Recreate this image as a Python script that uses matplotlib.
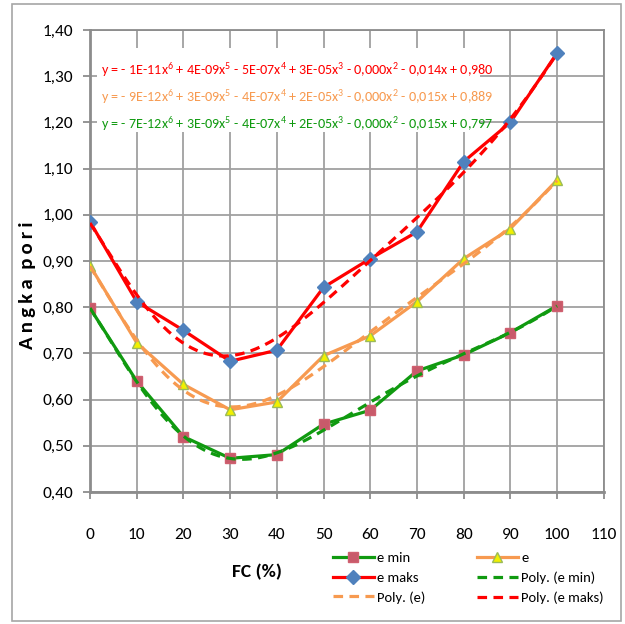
import numpy as np
import matplotlib
matplotlib.use("Agg")
import matplotlib.pyplot as plt
from matplotlib.patches import Rectangle
from matplotlib.ticker import FuncFormatter, MultipleLocator

plt.rcParams["font.family"] = ["Carlito", "DejaVu Sans"]
plt.rcParams["mathtext.fontset"] = "custom"
plt.rcParams["mathtext.rm"] = "Carlito"
plt.rcParams["mathtext.it"] = "Carlito"

# data
fc = [0, 10, 20, 30, 40, 50, 60, 70, 80, 90, 100]
e_min = [0.798, 0.640, 0.520, 0.473, 0.481, 0.547, 0.577, 0.662, 0.697, 0.745, 0.803]
e_mid = [0.890, 0.723, 0.633, 0.578, 0.595, 0.695, 0.738, 0.812, 0.905, 0.970, 1.075]
e_maks = [0.985, 0.812, 0.750, 0.683, 0.707, 0.843, 0.905, 0.963, 1.115, 1.200, 1.350]

eq_maks = r"y = - 1E-11x$^{6}$ + 4E-09x$^{5}$ - 5E-07x$^{4}$ + 3E-05x$^{3}$ - 0,000x$^{2}$ - 0,014x + 0,980"
eq_mid = r"y = - 9E-12x$^{6}$ + 3E-09x$^{5}$ - 4E-07x$^{4}$ + 2E-05x$^{3}$ - 0,000x$^{2}$ - 0,015x + 0,889"
eq_min = r"y = - 7E-12x$^{6}$ + 3E-09x$^{5}$ - 4E-07x$^{4}$ + 2E-05x$^{3}$ - 0,000x$^{2}$ - 0,015x + 0,797"

GREEN = "#109a10"
ORANGE = "#f79a50"
RED = "#ff0000"

fig = plt.figure(figsize=(6.25, 6.24), dpi=100)
fig.patches.append(Rectangle((12 / 625, 3 / 624), 609 / 625, 617 / 624, transform=fig.transFigure,
                             fill=False, edgecolor="#a6a6a6", lw=1.2))
ax = fig.add_axes([0.144, 0.2115, 0.822, 0.7404])

x = np.array(fc, dtype=float)
xs = np.linspace(0, 100, 300)

l_min, = ax.plot(fc, e_min, color=GREEN, lw=2.3, marker="s", ms=6.5,
                 mfc="#c85a6a", mec="#d06070", zorder=4)
l_mid, = ax.plot(fc, e_mid, color=ORANGE, lw=2.3, marker="^", ms=7,
                 mfc="#f0f000", mec="#9bbb59", zorder=4)
l_maks, = ax.plot(fc, e_maks, color=RED, lw=2.3, marker="D", ms=7,
                  mfc="#4f81bd", mec="#4f81bd", zorder=4)

# 6th order polynomial trend lines
dash = (3, 2)
p_min, = ax.plot(xs, np.polyval(np.polyfit(x, e_min, 6), xs), color=GREEN, lw=2.3,
                 ls=(0, dash), zorder=5)
p_mid, = ax.plot(xs, np.polyval(np.polyfit(x, e_mid, 6), xs), color=ORANGE, lw=2.3,
                 ls=(0, dash), zorder=5)
p_maks, = ax.plot(xs, np.polyval(np.polyfit(x, e_maks, 6), xs), color=RED, lw=2.3,
                  ls=(0, dash), zorder=5)

ax.set_xlim(0, 110)
ax.set_ylim(0.4, 1.4)
ax.xaxis.set_major_locator(MultipleLocator(10))
ax.yaxis.set_major_locator(MultipleLocator(0.1))
ax.yaxis.set_major_formatter(FuncFormatter(lambda v, _: f"{v:.2f}".replace(".", ",")))
ax.grid(True, color="#a0a0a0", lw=1.3, zorder=0)
ax.set_axisbelow(True)
for s in ax.spines.values():
    s.set_color("#8c8c8c")
    s.set_linewidth(1.3)
ax.spines["left"].set_linewidth(2)
ax.spines["bottom"].set_linewidth(2)
ax.tick_params(axis="both", colors="#8c8c8c", labelcolor="black", labelsize=12.5, length=5, width=1.3)
ax.tick_params(axis="x", pad=21)
ax.tick_params(axis="y", pad=7)

# axis titles
fig.text(257 / 625, 1 - 572 / 624, "FC (%)", fontsize=14, fontweight="bold", ha="center", va="center")
fig.text(28 / 625, 1 - 285 / 624, "A\u2009n\u2009g\u2009k\u2009a  p\u2009o\u2009r\u2009i", fontsize=15,
         fontweight="bold", rotation=90, ha="center", va="center")

# equation box
ax.add_patch(Rectangle((1.5, 1.18), 82, 0.18, facecolor="white", edgecolor="none", zorder=2))
for yv, txt, col in [(1.313, eq_maks, RED), (1.255, eq_mid, ORANGE), (1.197, eq_min, GREEN)]:
    ax.text(2.3, yv, txt, color=col, fontsize=10.2, va="center", ha="left", zorder=6)

# legend in two columns, laid out as two blocks
leg_kw = dict(loc="upper left", frameon=False, fontsize=10.5, handlelength=2.8, handletextpad=0.25,
              labelspacing=0.5, borderaxespad=0, borderpad=0)
fig.legend([l_min, l_maks, p_mid], ["e min", "e maks", "Poly. (e)"],
           bbox_to_anchor=(333 / 625, 1 - 552 / 624), **leg_kw)
fig.legend([l_mid, p_min, p_maks], ["e", "Poly. (e min)", "Poly. (e maks)"],
           bbox_to_anchor=(477 / 625, 1 - 552 / 624), **leg_kw)

fig.savefig("out.png", dpi=100)
